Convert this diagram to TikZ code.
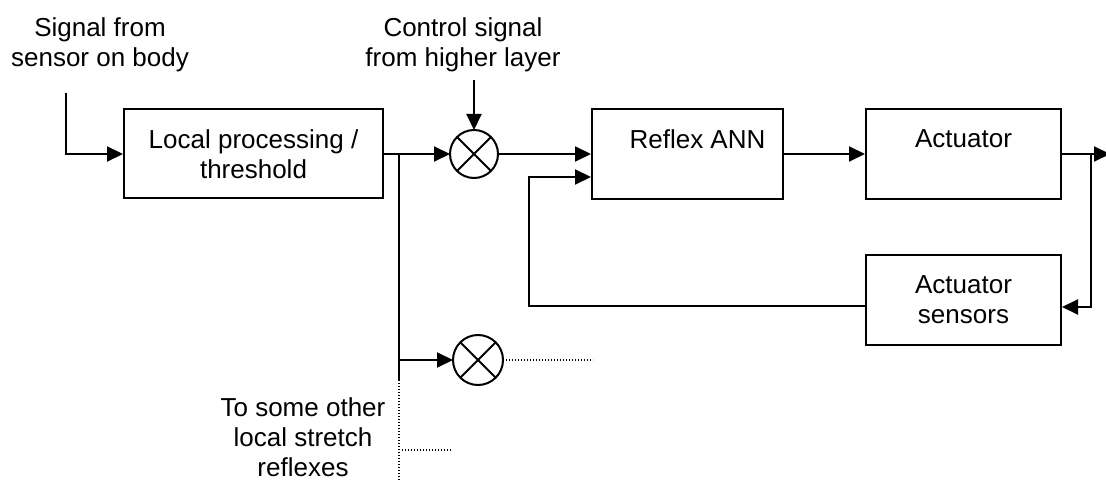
\documentclass[tikz,border=0pt]{standalone}
\usepackage{fontspec}
\setmainfont{Liberation Sans}
\usetikzlibrary{arrows.meta}

\begin{document}
\begin{tikzpicture}[x=1pt, y=-1pt, line width=2pt,
  >={Triangle[length=16pt,width=15pt]},
  font=\fontsize{26}{30}\selectfont,
  block/.style={draw, align=center, minimum height=90pt, inner sep=0pt},
  mult/.style={draw, circle, minimum size=48pt, inner sep=0pt, outer sep=0pt},
  txt/.style={align=center, inner sep=0pt},
  faint/.style={line width=1.4pt, dash pattern=on 1.4pt off 1.6pt}]
  \useasboundingbox (0,0) rectangle (1106,481);
  % labels
  \node[txt] (sig)  at (100,45) {Signal from\\sensor on body};
  \node[txt] (ctrl) at (463,45) {Control signal\\from higher layer};
  \node[txt] (oth)  at (303,437) {To some other\\local stretch\\reflexes};
  % blocks
  \node[block, minimum width=259pt, minimum height=89pt] (lp) at (253.5,154) {Local processing /\\threshold};
  \node[block, minimum width=191pt] (ann)  at (687.5,154) {\hspace*{20pt}Reflex ANN\\\phantom{h}};
  \node[block, minimum width=195pt] (act)  at (963.5,154) {Actuator\\\phantom{h}};
  \node[block, minimum width=195pt] (sens) at (963.5,300) {Actuator\\sensors};
  \node[mult] (m1) at (474,154) {};
  \node[mult, minimum size=50pt] (m2) at (478,360) {};
  \draw (m1.45) -- (m1.225) (m1.135) -- (m1.315);
  \draw (m2.45) -- (m2.225) (m2.135) -- (m2.315);
  % free ends
  \coordinate (sigin)  at (66,93);
  \coordinate (ctrlin) at (474,80);
  \coordinate (j1)     at (399,154);
  \coordinate (j1b)    at (399,360);
  \coordinate (j1end)  at (399,380);
  \coordinate (dotend) at (399,481);
  \coordinate (m2out)  at (593,360);
  \coordinate (d1)     at (402,450);
  \coordinate (d2)     at (451,450);
  \coordinate (out)    at (1110,154);
  \coordinate (j2)     at (1091,154);
  \coordinate (fb)     at (529,177);
  % connectors
  \draw[->] (sigin) |- (lp.west);
  \draw[->] (ctrlin) -- (m1);
  \draw[->] (lp.east) -- (m1.west);
  \draw (j1) -- (j1end);
  \draw[faint] (j1end) -- (dotend);
  \draw[->] (j1b) -- (m2.west);
  \draw[faint] (m2.east) -- (m2out);
  \draw[faint] (d1) -- (d2);
  \draw[->] (m1.east) -- (m1 -| ann.west);
  \draw[->] (ann) -- (act);
  \draw[->] (act.east) -- (out);
  \draw[->] (j2) |- ([yshift=-7pt]sens.east);
  \draw[->] ([yshift=-6pt]sens.west) -| (fb) -- (fb -| ann.west);
\end{tikzpicture}
\end{document}
